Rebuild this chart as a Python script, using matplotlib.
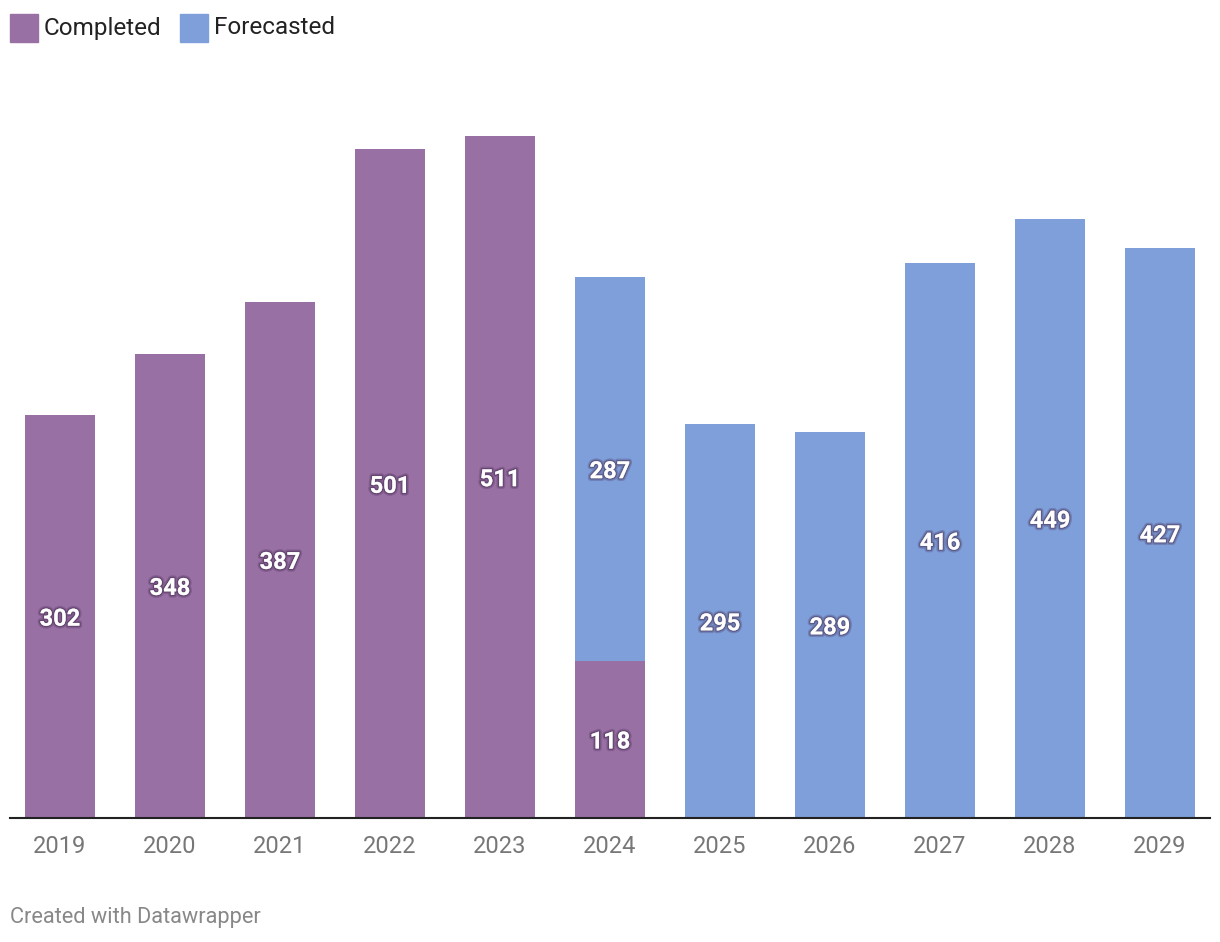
import matplotlib
matplotlib.use("Agg")
import matplotlib.pyplot as plt
import matplotlib.patheffects as pe

years = ["2019", "2020", "2021", "2022", "2023", "2024", "2025", "2026", "2027", "2028", "2029"]
completed = [302, 348, 387, 501, 511, 118, 0, 0, 0, 0, 0]
forecasted = [0, 0, 0, 0, 0, 287, 295, 289, 416, 449, 427]

PURPLE = "#9970a4"
BLUE = "#7f9fda"

plt.rcParams["font.family"] = ["Roboto", "DejaVu Sans"]

fig = plt.figure(figsize=(12.2, 9.42), dpi=100)
ax = fig.add_axes([10 / 1220, 124 / 942, 1200 / 1220, 718 / 942])

x = list(range(len(years)))
w = 70 / 110
ax.bar(x, completed, width=w, color=PURPLE, label="Completed")
ax.bar(x, forecasted, width=w, bottom=completed, color=BLUE, label="Forecasted")

shadow = [pe.withStroke(linewidth=4, foreground=(0.25, 0.15, 0.3, 0.25)),
          pe.withStroke(linewidth=2, foreground=(0.2, 0.1, 0.25, 0.35))]
for i in x:
    for val, base in ((completed[i], 0), (forecasted[i], completed[i])):
        if val > 0:
            ax.text(i, base + val / 2 - 2, str(val), ha="center", va="center",
                    color="white", fontsize=17, fontweight="bold", path_effects=shadow)

ax.set_xlim(-50 / 110, 1150 / 110)
ax.set_ylim(0, 718 / 1.3346)
ax.set_xticks(x)
ax.set_xticklabels(years, fontsize=17, color="#777777")
ax.tick_params(axis="x", length=0, pad=12)
ax.set_yticks([])
for s in ["top", "right", "left"]:
    ax.spines[s].set_visible(False)
ax.spines["bottom"].set_color("#222222")
ax.spines["bottom"].set_linewidth(1.5)

# legend drawn manually in Datawrapper style
fig.patches.append(plt.Rectangle((10 / 1220, 1 - 42 / 942), 28 / 1220, 28 / 942,
                                 transform=fig.transFigure, color=PURPLE))
fig.text(44 / 1220, 1 - 28 / 942, "Completed", fontsize=17.5, color="#222222", va="center")
fig.patches.append(plt.Rectangle((180 / 1220, 1 - 42 / 942), 28 / 1220, 28 / 942,
                                 transform=fig.transFigure, color=BLUE))
fig.text(214 / 1220, 1 - 28 / 942, "Forecasted", fontsize=17.5, color="#222222", va="center")

fig.text(10 / 1220, 1 - 917 / 942, "Created with Datawrapper", fontsize=15.7,
         color="#888888", va="center")

fig.savefig("out.png", dpi=100)
